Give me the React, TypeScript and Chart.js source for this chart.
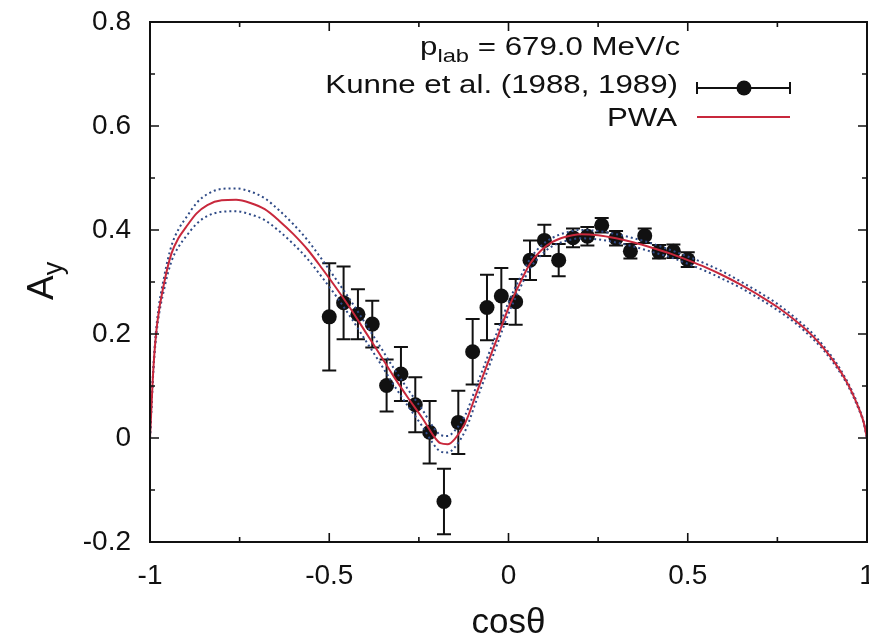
import React, { useEffect, useRef } from "react";
import { Chart, registerables } from "chart.js";

Chart.register(...registerables);

// ---- axis ticks ----
const xTickValues = [-1, -0.5, 0, 0.5, 1];
const xTickLabels = ["-1", "-0.5", "0", "0.5", "1"];
const xMinorTicks = [-0.75, -0.25, 0.25, 0.75];
const yTickValues = [-0.2, 0, 0.2, 0.4, 0.6, 0.8];
const yTickLabels = ["-0.2", "0", "0.2", "0.4", "0.6", "0.8"];
const yMinorTicks = [-0.1, 0.1, 0.3, 0.5, 0.7];

// ---- Kunne et al. (1988, 1989) data ----
const dataX = [-0.5, -0.46, -0.42, -0.38, -0.34, -0.3, -0.26, -0.22, -0.18, -0.14, -0.1, -0.06, -0.02, 0.02, 0.06, 0.1, 0.14, 0.18, 0.22, 0.26, 0.3, 0.34, 0.38, 0.42, 0.46, 0.5];
const dataY = [0.233, 0.26, 0.238, 0.219, 0.101, 0.123, 0.064, 0.011, -0.122, 0.03, 0.166, 0.251, 0.273, 0.262, 0.342, 0.38, 0.342, 0.385, 0.388, 0.409, 0.384, 0.359, 0.389, 0.358, 0.359, 0.343];
const dataErr = [0.103, 0.07, 0.048, 0.045, 0.05, 0.052, 0.053, 0.06, 0.063, 0.061, 0.063, 0.063, 0.054, 0.044, 0.038, 0.03, 0.031, 0.018, 0.018, 0.014, 0.014, 0.014, 0.014, 0.013, 0.013, 0.014];

// ---- PWA curve and its error band ----
const pwaX = [-1, -0.99, -0.98, -0.96, -0.94, -0.92, -0.9, -0.87, -0.84, -0.8, -0.76, -0.72, -0.68, -0.64, -0.6, -0.56, -0.52, -0.48, -0.44, -0.4, -0.36, -0.32, -0.28, -0.24, -0.21, -0.19, -0.17, -0.15, -0.12, -0.09, -0.06, -0.03, 0, 0.03, 0.06, 0.09, 0.12, 0.16, 0.2, 0.25, 0.3, 0.35, 0.4, 0.45, 0.5, 0.55, 0.6, 0.65, 0.7, 0.75, 0.8, 0.85, 0.88, 0.91, 0.94, 0.96, 0.98, 0.99, 1];
const pwaY = [0, 0.14, 0.22, 0.3, 0.355, 0.385, 0.405, 0.432, 0.448, 0.457, 0.458, 0.452, 0.44, 0.418, 0.392, 0.362, 0.326, 0.288, 0.248, 0.205, 0.162, 0.118, 0.077, 0.038, 0.005, -0.01, -0.012, -0.002, 0.03, 0.085, 0.14, 0.195, 0.25, 0.295, 0.335, 0.36, 0.376, 0.387, 0.392, 0.39, 0.384, 0.376, 0.366, 0.355, 0.342, 0.328, 0.312, 0.294, 0.274, 0.252, 0.226, 0.195, 0.172, 0.145, 0.112, 0.085, 0.052, 0.032, 0];
const pwaUpper = [0, 0.145, 0.228, 0.312, 0.37, 0.402, 0.423, 0.452, 0.469, 0.479, 0.48, 0.474, 0.461, 0.438, 0.411, 0.38, 0.343, 0.304, 0.264, 0.221, 0.178, 0.134, 0.093, 0.054, 0.021, 0.006, 0.004, 0.014, 0.045, 0.099, 0.153, 0.207, 0.261, 0.305, 0.344, 0.369, 0.384, 0.395, 0.4, 0.398, 0.392, 0.384, 0.374, 0.362, 0.349, 0.335, 0.319, 0.3, 0.28, 0.258, 0.231, 0.2, 0.176, 0.149, 0.115, 0.088, 0.054, 0.033, 0];
const pwaLower = [0, 0.135, 0.212, 0.288, 0.34, 0.368, 0.387, 0.412, 0.427, 0.435, 0.436, 0.43, 0.419, 0.398, 0.373, 0.344, 0.309, 0.272, 0.232, 0.189, 0.146, 0.102, 0.061, 0.022, -0.011, -0.026, -0.028, -0.018, 0.015, 0.071, 0.127, 0.183, 0.239, 0.285, 0.326, 0.351, 0.368, 0.379, 0.384, 0.382, 0.376, 0.368, 0.358, 0.348, 0.335, 0.321, 0.305, 0.288, 0.268, 0.246, 0.221, 0.19, 0.168, 0.141, 0.109, 0.082, 0.05, 0.031, 0];

const legendTitle = "= 679.0 MeV/c";
const legendData = "Kunne et al. (1988, 1989)";
const legendPwa = "PWA";

const INK = "#111111";
const RED = "#c8283c";
const BAND = "#2f4a86";
const FONT = "'Liberation Sans', Arial, sans-serif";

const decorPlugin = {
  id: "decor",
  beforeDatasetsDraw(chart: any) {
    const { ctx, scales } = chart;
    const x = scales.x;
    const y = scales.y;
    const cap = 7;
    ctx.save();
    ctx.strokeStyle = INK;
    ctx.lineWidth = 2;
    for (let i = 0; i < dataX.length; i++) {
      const px = x.getPixelForValue(dataX[i]);
      const top = y.getPixelForValue(dataY[i] + dataErr[i]);
      const bot = y.getPixelForValue(dataY[i] - dataErr[i]);
      ctx.beginPath();
      ctx.moveTo(px, top);
      ctx.lineTo(px, bot);
      ctx.moveTo(px - cap, top);
      ctx.lineTo(px + cap, top);
      ctx.moveTo(px - cap, bot);
      ctx.lineTo(px + cap, bot);
      ctx.stroke();
    }
    ctx.restore();
  },
  afterDraw(chart: any) {
    const { ctx, chartArea: a, scales } = chart;
    const x = scales.x;
    const y = scales.y;
    ctx.save();
    // frame
    ctx.strokeStyle = INK;
    ctx.lineWidth = 2;
    ctx.strokeRect(a.left, a.top, a.right - a.left, a.bottom - a.top);
    // inward ticks on all four sides
    ctx.lineWidth = 1.6;
    const drawX = (v: number, len: number) => {
      const px = x.getPixelForValue(v);
      ctx.beginPath();
      ctx.moveTo(px, a.bottom);
      ctx.lineTo(px, a.bottom - len);
      ctx.moveTo(px, a.top);
      ctx.lineTo(px, a.top + len);
      ctx.stroke();
    };
    const drawY = (v: number, len: number) => {
      const py = y.getPixelForValue(v);
      ctx.beginPath();
      ctx.moveTo(a.left, py);
      ctx.lineTo(a.left + len, py);
      ctx.moveTo(a.right, py);
      ctx.lineTo(a.right - len, py);
      ctx.stroke();
    };
    xTickValues.forEach((v) => drawX(v, 9));
    xMinorTicks.forEach((v) => drawX(v, 5));
    yTickValues.forEach((v) => drawY(v, 9));
    yMinorTicks.forEach((v) => drawY(v, 5));

    // key
    ctx.fillStyle = INK;
    ctx.textBaseline = "alphabetic";
    const sx = 1.25;
    ctx.save();
    ctx.translate(420, 55);
    ctx.scale(sx, 1);
    ctx.textAlign = "left";
    ctx.font = `25px ${FONT}`;
    ctx.fillText("p", 0, 0);
    let w = ctx.measureText("p").width;
    ctx.font = `19px ${FONT}`;
    ctx.fillText("lab", w, 7);
    w += ctx.measureText("lab").width;
    ctx.font = `25px ${FONT}`;
    ctx.fillText(" " + legendTitle, w, 0);
    ctx.restore();
    ctx.save();
    ctx.translate(678, 93);
    ctx.scale(sx, 1);
    ctx.textAlign = "right";
    ctx.font = `25px ${FONT}`;
    ctx.fillText(legendData, 0, 0);
    ctx.restore();
    ctx.save();
    ctx.translate(677, 126);
    ctx.scale(sx, 1);
    ctx.textAlign = "right";
    ctx.font = `25px ${FONT}`;
    ctx.fillText(legendPwa, 0, 0);
    ctx.restore();
    // data sample
    ctx.strokeStyle = INK;
    ctx.lineWidth = 2;
    ctx.beginPath();
    ctx.moveTo(697, 88);
    ctx.lineTo(790, 88);
    ctx.moveTo(697, 82);
    ctx.lineTo(697, 94);
    ctx.moveTo(790, 82);
    ctx.lineTo(790, 94);
    ctx.stroke();
    ctx.beginPath();
    ctx.arc(744, 88, 7.5, 0, Math.PI * 2);
    ctx.fill();
    // PWA sample
    ctx.strokeStyle = RED;
    ctx.beginPath();
    ctx.moveTo(697, 117);
    ctx.lineTo(790, 117);
    ctx.stroke();

    // y-axis title A_y
    ctx.fillStyle = INK;
    ctx.save();
    ctx.translate(53, 300);
    ctx.rotate(-Math.PI / 2);
    ctx.textAlign = "left";
    ctx.font = `37px ${FONT}`;
    ctx.fillText("A", 0, 0);
    const aw = ctx.measureText("A").width;
    ctx.font = `27px ${FONT}`;
    ctx.fillText("y", aw, 9);
    ctx.restore();

    ctx.restore();
  },
};

export default function App() {
  const canvasRef = useRef<HTMLCanvasElement | null>(null);

  useEffect(() => {
    if (!canvasRef.current) return;
    const points = dataX.map((v, i) => ({ x: v, y: dataY[i] }));
    const curve = pwaX.map((v, i) => ({ x: v, y: pwaY[i] }));
    const upper = pwaX.map((v, i) => ({ x: v, y: pwaUpper[i] }));
    const lower = pwaX.map((v, i) => ({ x: v, y: pwaLower[i] }));

    const chart = new Chart(canvasRef.current, {
      type: "scatter",
      data: {
        datasets: [
          {
            label: "PWA",
            data: curve,
            showLine: true,
            borderColor: RED,
            borderWidth: 2,
            pointRadius: 0,
            cubicInterpolationMode: "monotone",
            order: 0,
          } as any,
          {
            label: "PWA upper",
            data: upper,
            showLine: true,
            borderColor: BAND,
            borderWidth: 2,
            borderDash: [2, 3],
            pointRadius: 0,
            cubicInterpolationMode: "monotone",
            order: 1,
          } as any,
          {
            label: "PWA lower",
            data: lower,
            showLine: true,
            borderColor: BAND,
            borderWidth: 2,
            borderDash: [2, 3],
            pointRadius: 0,
            cubicInterpolationMode: "monotone",
            order: 1,
          } as any,
          {
            label: "Kunne et al. (1988, 1989)",
            data: points,
            pointRadius: 7.5,
            pointHoverRadius: 7.5,
            pointBackgroundColor: INK,
            pointBorderWidth: 0,
            showLine: false,
            order: 2,
          } as any,
        ],
      },
      options: {
        animation: false,
        responsive: true,
        maintainAspectRatio: false,
        layout: { autoPadding: false, padding: { top: 22, right: 2, left: 0, bottom: 0 } },
        plugins: {
          legend: { display: false },
          tooltip: { enabled: false },
        },
        scales: {
          x: {
            type: "linear",
            min: -1,
            max: 1,
            grid: { display: false, drawTicks: false },
            border: { display: false },
            afterBuildTicks: (scale: any) => {
              scale.ticks = xTickValues.map((v) => ({ value: v }));
            },
            afterFit: (scale: any) => {
              scale.height = 99;
              scale.paddingLeft = 0;
              scale.paddingRight = 0;
            },
            ticks: {
              padding: 17,
              color: INK,
              font: { size: 28, family: FONT },
              maxRotation: 0,
              autoSkip: false,
              callback: (v: any) => {
                const i = xTickValues.indexOf(Number(v));
                return i >= 0 ? xTickLabels[i] : "";
              },
            },
            title: {
              display: true,
              text: "cosθ",
              color: INK,
              font: { size: 35, family: FONT, lineHeight: 1.0 },
              padding: { top: 0, bottom: 0 },
            },
          },
          y: {
            type: "linear",
            min: -0.2,
            max: 0.8,
            grid: { display: false, drawTicks: false },
            border: { display: false },
            afterBuildTicks: (scale: any) => {
              scale.ticks = yTickValues.map((v) => ({ value: v }));
            },
            afterFit: (scale: any) => {
              scale.width = 150;
              scale.paddingTop = 0;
              scale.paddingBottom = 0;
            },
            ticks: {
              padding: 19,
              color: INK,
              font: { size: 28, family: FONT },
              autoSkip: false,
              callback: (v: any) => {
                const i = yTickValues.indexOf(Number(v));
                return i >= 0 ? yTickLabels[i] : "";
              },
            },
          },
        },
      },
      plugins: [decorPlugin],
    });
    return () => chart.destroy();
  }, []);

  return (
    <div
      style={{
        position: "fixed",
        left: 0,
        top: 0,
        width: 869,
        height: 641,
        background: "#ffffff",
      }}
    >
      <canvas ref={canvasRef} />
    </div>
  );
}
